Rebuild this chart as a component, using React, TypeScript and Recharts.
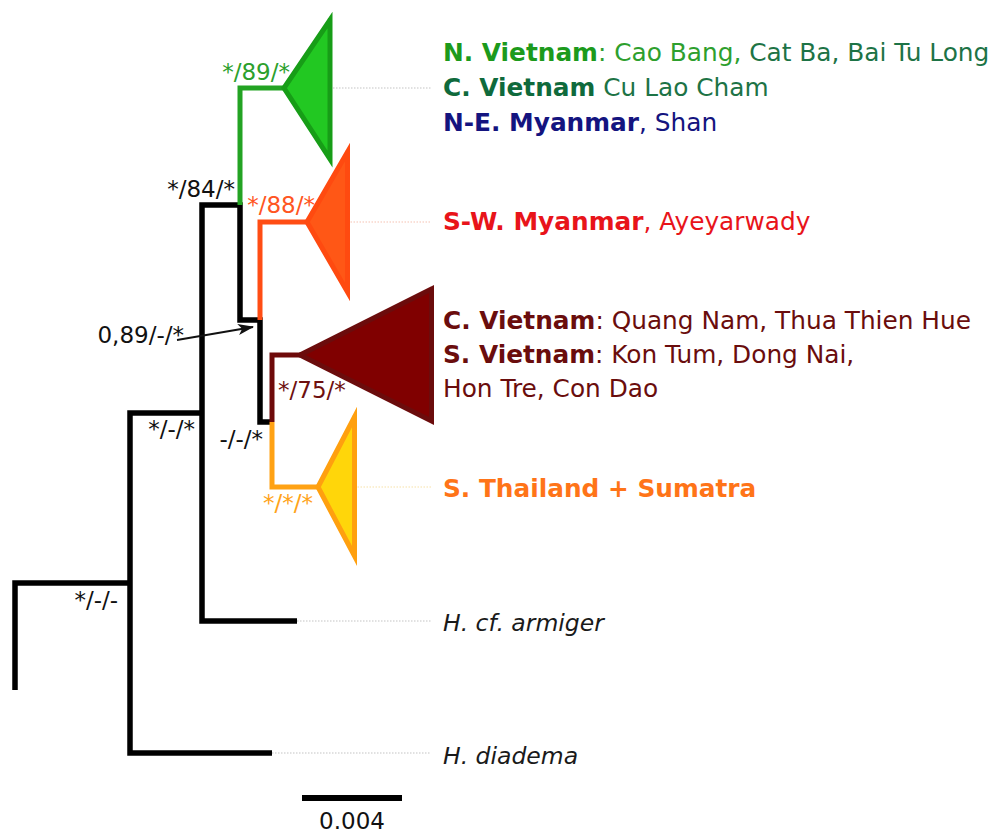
import { ComposedChart, XAxis, YAxis, Line, Area, Scatter } from 'recharts';

// x = substitutions per site from the root, y = vertical slot of the layout (0 at the top)
const X_DOMAIN: [number, number] = [-0.0006, 0.0394];
const Y_DOMAIN: [number, number] = [0, 835];

// depths of the internal nodes and terminal tips
const NODE_A = 0.0046; // */-/-
const NODE_B = 0.00748; // */-/*
const NODE_C = 0.009; // */84/*
const NODE_D = 0.0098; // 0,89/-/*
const NODE_E = 0.01028; // -/-/*
const ARMIGER_TIP = 0.01128;
const DIADEMA_TIP = 0.01028;
const LEADER_END = 0.01664;
const LABEL_X = 0.01712;

type XY = [number, number];

// black backbone, as [depth, slot] polylines
const BACKBONE: XY[][] = [
  [[0, 690], [0, 583], [NODE_A, 583]],
  [[DIADEMA_TIP, 753], [NODE_A, 753], [NODE_A, 413], [NODE_B, 413]],
  [
    [ARMIGER_TIP, 621], [NODE_B, 621], [NODE_B, 205], [NODE_C, 205],
    [NODE_C, 320], [NODE_D, 320], [NODE_D, 422], [NODE_E, 422],
  ],
];

// collapsed clades: parent node, stem slot, crown depth, deepest tip and slot span
const CLADES = [
  { id: 'north', parent: [NODE_C, 205] as XY, row: 88, crown: 0.01076, tip: 0.0126, top: 20, bottom: 159 },
  { id: 'west', parent: [NODE_D, 320] as XY, row: 222, crown: 0.01168, tip: 0.0133, top: 152, bottom: 292 },
  { id: 'south', parent: [NODE_E, 422] as XY, row: 355, crown: 0.0114, tip: 0.01666, top: 289, bottom: 421 },
  { id: 'sunda', parent: [NODE_E, 422] as XY, row: 487, crown: 0.01212, tip: 0.01358, top: 417, bottom: 556 },
];

const TERMINALS = [
  { tip: ARMIGER_TIP, row: 621 },
  { tip: DIADEMA_TIP, row: 753 },
];

// support values: PP / ML bootstrap / MP
const SUPPORT = [
  { id: 'north', text: '*/89/*', x: 0.01076, y: 88 },
  { id: 'c', text: '*/84/*', x: NODE_C, y: 205 },
  { id: 'west', text: '*/88/*', x: 0.01168, y: 222 },
  { id: 'd', text: '0,89/-/*', x: NODE_D, y: 320 },
  { id: 'b', text: '*/-/*', x: NODE_B, y: 413 },
  { id: 'e', text: '-/-/*', x: NODE_E, y: 422 },
  { id: 'south', text: '*/75/*', x: NODE_E, y: 355 },
  { id: 'sunda', text: '*/*/*', x: NODE_E, y: 487 },
  { id: 'a', text: '*/-/-', x: NODE_A, y: 583 },
];

// pointer from the 0,89/-/* value to its node
const POINTER: XY[] = [[0.00648, 340], [0.00952, 327]];

type Part = { text: string; tone: string; bold?: boolean; italic?: boolean };

const TIP_LABELS: { row: number; parts: Part[] }[] = [
  { row: 61, parts: [
    { text: 'N. Vietnam', tone: 'nvBold', bold: true },
    { text: ': Cao Bang, ', tone: 'nv' },
    { text: 'Cat Ba, Bai Tu Long', tone: 'cv' },
  ] },
  { row: 96, parts: [
    { text: 'C. Vietnam', tone: 'cvBold', bold: true },
    { text: ' Cu Lao Cham', tone: 'cv' },
  ] },
  { row: 131, parts: [
    { text: 'N-E. Myanmar', tone: 'ne', bold: true },
    { text: ', Shan', tone: 'ne' },
  ] },
  { row: 230, parts: [
    { text: 'S-W. Myanmar', tone: 'sw', bold: true },
    { text: ', Ayeyarwady', tone: 'sw' },
  ] },
  { row: 329, parts: [
    { text: 'C. Vietnam', tone: 'dr', bold: true },
    { text: ': Quang Nam, Thua Thien Hue', tone: 'dr' },
  ] },
  { row: 363, parts: [
    { text: 'S. Vietnam', tone: 'dr', bold: true },
    { text: ': Kon Tum, Dong Nai,', tone: 'dr' },
  ] },
  { row: 397, parts: [{ text: 'Hon Tre, Con Dao', tone: 'dr' }] },
  { row: 497, parts: [{ text: 'S. Thailand + Sumatra', tone: 'th', bold: true }] },
  { row: 631, parts: [{ text: 'H. cf. armiger', tone: 'out', italic: true }] },
  { row: 764, parts: [{ text: 'H. diadema', tone: 'out', italic: true }] },
];

const SCALE_BAR = { start: 0.01148, length: 0.004, row: 798 };

// ---- styles ----

const FONT = '"DejaVu Sans", Verdana, sans-serif';

const TONES: Record<string, string> = {
  nvBold: '#1c9a1c',
  nv: '#2e9f2e',
  cv: '#1d7346',
  cvBold: '#0f6a3c',
  ne: '#14147f',
  sw: '#e8141a',
  dr: '#6a0d0d',
  th: '#ff7418',
  out: '#1a1a1a',
};

const CLADE_STYLE: Record<string, { line: string; fill: string; edge: string; leader: string }> = {
  north: { line: '#23a323', fill: '#22c822', edge: '#179d17', leader: '#c4c4c4' },
  west: { line: '#ff4d14', fill: '#ff5716', edge: '#ff4a10', leader: '#f6c2b2' },
  south: { line: '#6e0a0a', fill: '#800000', edge: '#6b0c0c', leader: '#c4c4c4' },
  sunda: { line: '#ffa214', fill: '#ffd60a', edge: '#ffa00f', leader: '#f8e1a8' },
};

const SUPPORT_STYLE: Record<string, { dx: number; dy: number; anchor: 'start' | 'end'; color: string }> = {
  north: { dx: 6, dy: -8, anchor: 'end', color: '#2ca02c' },
  c: { dx: -5, dy: -8, anchor: 'end', color: '#111' },
  west: { dx: 8, dy: -9, anchor: 'end', color: '#ff5522' },
  d: { dx: -76, dy: 23, anchor: 'end', color: '#111' },
  b: { dx: -7, dy: 24, anchor: 'end', color: '#111' },
  e: { dx: -9, dy: 25, anchor: 'end', color: '#111' },
  south: { dx: 6, dy: 43, anchor: 'start', color: '#6e1010' },
  sunda: { dx: -9, dy: 24, anchor: 'start', color: '#ffa31a' },
  a: { dx: -12, dy: 25, anchor: 'end', color: '#111' },
};

const toPoints = (xy: XY[]) => xy.map(([x, y]) => ({ x, y }));

const TipLabel = (props: any) => {
  const { cx, cy, payload } = props;
  const italic = payload.parts.some((p: Part) => p.italic);
  return (
    <text x={cx} y={cy} fontSize={italic ? 23.5 : 24.8} fontFamily={FONT} style={{ whiteSpace: 'pre' }}>
      {payload.parts.map((p: Part, i: number) => (
        <tspan
          key={i}
          fill={TONES[p.tone]}
          fontWeight={p.bold ? 'bold' : 'normal'}
          fontStyle={p.italic ? 'italic' : 'normal'}
        >
          {p.text}
        </tspan>
      ))}
    </text>
  );
};

const SupportLabel = (props: any) => {
  const { cx, cy, payload } = props;
  const s = SUPPORT_STYLE[payload.id];
  return (
    <text x={cx + s.dx} y={cy + s.dy} textAnchor={s.anchor} fill={s.color} fontSize={23} fontFamily={FONT}>
      {payload.text}
    </text>
  );
};

const ScaleLabel = (props: any) => {
  const { cx, cy, payload } = props;
  return (
    <text x={cx} y={cy + 31} textAnchor="middle" fill="#111" fontSize={23} fontFamily={FONT}>
      {payload.text}
    </text>
  );
};

export default function App() {
  const leaders = [
    ...CLADES.filter((c) => c.tip < LEADER_END).map((c) => ({
      key: c.id,
      color: CLADE_STYLE[c.id].leader,
      data: toPoints([[c.tip, c.row], [LEADER_END, c.row]]),
    })),
    ...TERMINALS.map((t, i) => ({
      key: `t${i}`,
      color: '#c4c4c4',
      data: toPoints([[t.tip, t.row], [LEADER_END, t.row]]),
    })),
  ];

  const scaleEnd = SCALE_BAR.start + SCALE_BAR.length;

  return (
    <div style={{ position: 'absolute', left: 0, top: 0, background: '#fff' }}>
      <svg width={0} height={0} style={{ position: 'absolute' }}>
        <defs>
          <marker
            id="support-arrow"
            viewBox="0 0 16 11"
            refX={15}
            refY={5.5}
            markerWidth={17}
            markerHeight={11}
            markerUnits="userSpaceOnUse"
            orient="auto"
          >
            <path d="M0,0 L16,5.5 L0,11 L4,5.5 Z" fill="#111" />
          </marker>
        </defs>
      </svg>
      <ComposedChart width={1000} height={835} margin={{ top: 0, right: 0, bottom: 0, left: 0 }}>
        <XAxis type="number" dataKey="x" domain={X_DOMAIN} allowDataOverflow hide />
        <YAxis type="number" dataKey="y" domain={Y_DOMAIN} allowDataOverflow reversed hide />

        {leaders.map((l) => (
          <Line
            key={`leader-${l.key}`}
            data={l.data}
            dataKey="y"
            stroke={l.color}
            strokeWidth={1.2}
            strokeDasharray="1.5 1.5"
            dot={false}
            activeDot={false}
            isAnimationActive={false}
          />
        ))}

        {BACKBONE.map((b, i) => (
          <Line
            key={`bb-${i}`}
            data={toPoints(b)}
            dataKey="y"
            stroke="#000"
            strokeWidth={5.5}
            strokeLinejoin="miter"
            dot={false}
            activeDot={false}
            isAnimationActive={false}
          />
        ))}

        {CLADES.map((c) => (
          <Line
            key={`stem-${c.id}`}
            data={toPoints([c.parent, [c.parent[0], c.row], [c.crown, c.row]])}
            dataKey="y"
            stroke={CLADE_STYLE[c.id].line}
            strokeWidth={5}
            strokeLinejoin="miter"
            dot={false}
            activeDot={false}
            isAnimationActive={false}
          />
        ))}

        {CLADES.map((c) => (
          <Area
            key={`wedge-${c.id}`}
            data={[
              { x: c.crown, band: [c.row, c.row] },
              { x: c.tip, band: [c.bottom, c.top] },
            ]}
            dataKey="band"
            type="linear"
            stroke="none"
            fill={CLADE_STYLE[c.id].fill}
            fillOpacity={1}
            dot={false}
            activeDot={false}
            isAnimationActive={false}
          />
        ))}

        {CLADES.map((c) => (
          <Line
            key={`edge-${c.id}`}
            data={toPoints([
              [c.crown, c.row], [c.tip, c.top], [c.tip, c.bottom], [c.crown, c.row], [c.tip, c.top],
            ])}
            dataKey="y"
            stroke={CLADE_STYLE[c.id].edge}
            strokeWidth={5}
            strokeLinejoin="miter"
            strokeMiterlimit={20}
            dot={false}
            activeDot={false}
            isAnimationActive={false}
          />
        ))}

        <Line
          data={toPoints(POINTER)}
          dataKey="y"
          stroke="#111"
          strokeWidth={1.8}
          markerEnd="url(#support-arrow)"
          dot={false}
          activeDot={false}
          isAnimationActive={false}
        />

        <Line
          data={toPoints([[SCALE_BAR.start, SCALE_BAR.row], [scaleEnd, SCALE_BAR.row]])}
          dataKey="y"
          stroke="#000"
          strokeWidth={6}
          dot={false}
          activeDot={false}
          isAnimationActive={false}
        />

        <Scatter data={SUPPORT} shape={SupportLabel} isAnimationActive={false} />
        <Scatter
          data={TIP_LABELS.map((l) => ({ x: LABEL_X, y: l.row, parts: l.parts }))}
          shape={TipLabel}
          isAnimationActive={false}
        />
        <Scatter
          data={[{ x: SCALE_BAR.start + SCALE_BAR.length / 2, y: SCALE_BAR.row, text: SCALE_BAR.length.toFixed(3) }]}
          shape={ScaleLabel}
          isAnimationActive={false}
        />
      </ComposedChart>
    </div>
  );
}
